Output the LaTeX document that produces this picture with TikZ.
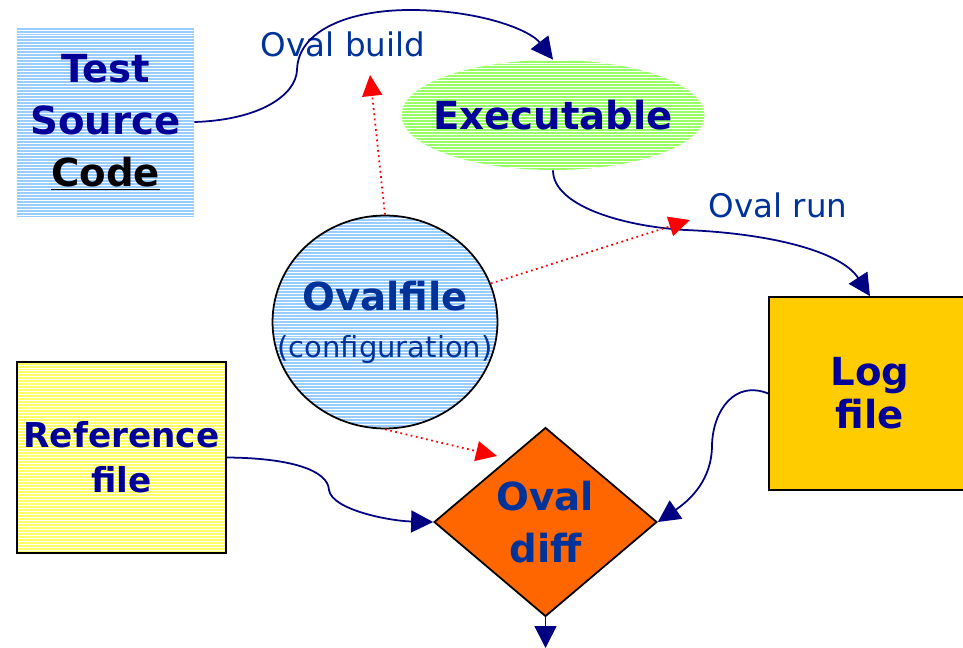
\documentclass[tikz,border=0pt]{standalone}
\usepackage{fontspec}
\setmainfont{DejaVu Sans}
\usetikzlibrary{arrows.meta, positioning, shapes.geometric, calc}
\definecolor{oval_navy}{RGB}{0, 0, 153}
\definecolor{oval_blue}{RGB}{0, 51, 153}
\definecolor{oval_line}{RGB}{0, 0, 128}
\definecolor{oval_sky}{RGB}{153, 204, 255}
\definecolor{oval_lime}{RGB}{153, 255, 102}
\definecolor{oval_lemon}{RGB}{255, 255, 102}
\definecolor{oval_gold}{RGB}{255, 204, 0}
\definecolor{oval_orange}{RGB}{255, 102, 0}

\tikzset{
  stripes/.style={path picture={
      \foreach \s in {0,...,80} {
        \draw[white, line width=0.55pt]
          ([yshift=-\s*1.7pt]path picture bounding box.north west) --
          ([yshift=-\s*1.7pt]path picture bounding box.north east);
      }}},
  bigtxt/.style={font=\fontsize{22}{29.6}\selectfont\bfseries, align=center, inner sep=0pt},
  flowlbl/.style={font=\fontsize{18.5}{22}\selectfont, text=oval_blue},
  flow/.style={draw=oval_line, line width=1pt, -{Triangle[length=0.44cm, width=0.44cm]}},
  hint/.style={draw=red, dotted, line width=1pt, -{Triangle[length=0.42cm, width=0.4cm]}}
}

\begin{document}
\begin{tikzpicture}[x=0.02cm, y=-0.02cm]
  \useasboundingbox (0,0) rectangle (963,648);

  % boxes
  \node[bigtxt, text=oval_navy, fill=oval_sky, stripes,
        minimum width=3.54cm, minimum height=3.8cm] (src) at (105.5,122)
        {Test\\Source\\\textcolor{black}{\underline{Code}}};
  \node[bigtxt, text=oval_navy, ellipse, fill=oval_lime, stripes, inner xsep=-0.4cm,
        minimum width=6.06cm, minimum height=2.2cm] (exe) at (553,115) {Executable};
  \node[bigtxt, text=oval_blue, ellipse, draw=black, line width=1pt, fill=oval_sky, stripes,
        inner xsep=-0.6cm, minimum width=4.5cm, minimum height=4.26cm] (cfg) at (385,322)
        {Ovalfile\\[-3pt]{\fontsize{16.5}{20}\selectfont\mdseries (configuration)}};
  \node[bigtxt, text=oval_navy, draw=black, line width=1pt, fill=oval_lemon, stripes,
        font=\fontsize{19.5}{25.6}\selectfont\bfseries,
        minimum width=4.18cm, minimum height=3.82cm] (ref) at (121.5,457.5)
        {Reference\\file};
  \node[bigtxt, text=oval_navy, draw=black, line width=1pt, fill=oval_gold,
        font=\fontsize{22}{24.5}\selectfont\bfseries,
        minimum width=4.04cm, minimum height=3.86cm] (log) at (870,393.5)
        {Log\\file};
  \node[bigtxt, text=oval_blue, diamond, draw=black, line width=1pt, fill=oval_orange,
        minimum width=4.46cm, minimum height=3.78cm] (diff) at (545.5,522)
        {Oval\\diff};

  % labels
  \node[flowlbl] (buildlbl) at (343,44) {Oval build};
  \node[flowlbl] (runlbl) at (778,205) {Oval run};

  % flow
  \draw[flow] (src.east) .. controls (260,120) and (296,95) .. (297,70)
    .. controls (298,30) and (350,10) .. (410,10)
    .. controls (480,10) and (530,30) .. (exe.north);
  \draw[flow] (exe.south) .. controls (553,205) and (620,226) .. (685,230)
    .. controls (765,233) and (840,250) .. (log.north);
  \draw[flow] (ref.east) .. controls (290,458) and (328,470) .. (329,490)
    .. controls (332,510) and (390,521) .. (diff.west);
  \draw[flow] (log.west) .. controls (735,380) and (713,410) .. (712,445)
    .. controls (712,480) and (690,500) .. (diff.east);
  \coordinate (out) at (545.5,648);
  \draw[flow] (diff.south) -- (out);

  % config hints
  \coordinate (buildtip) at (370,75);
  \coordinate (runtip) at (690,220);
  \coordinate (difftip) at (497,456);
  \draw[hint] (cfg.north) -- (buildtip);
  \draw[hint] (cfg.20) -- (runtip);
  \draw[hint] (cfg.south) -- (difftip);
\end{tikzpicture}
\end{document}
